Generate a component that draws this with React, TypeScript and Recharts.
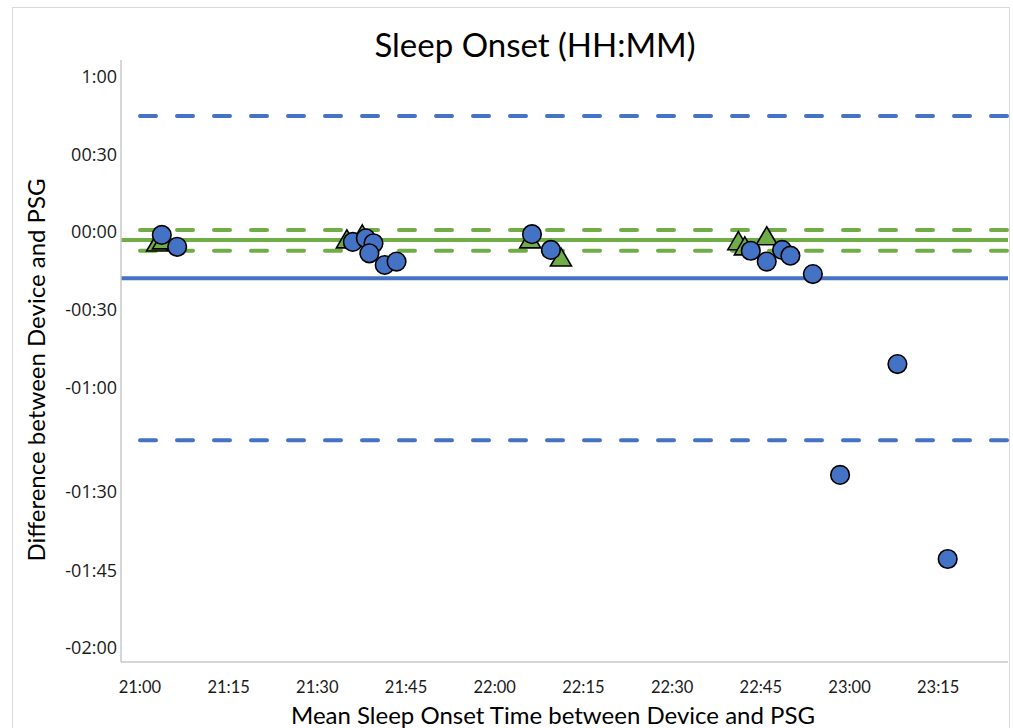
import React from "react";
import { ScatterChart, Scatter, XAxis, YAxis, ReferenceLine } from "recharts";

// x: mean sleep onset time (minutes after midnight), y: difference (minutes)
const blueX = [1263.7, 1266.3, 1296.0, 1298.2, 1299.5, 1298.8, 1301.4, 1303.4, 1326.3, 1329.5, 1363.3, 1366.0, 1368.6, 1370.0, 1373.8, 1378.4, 1388.1, 1396.6];
const blueY = [-1.0, -5.6, -3.7, -2.3, -4.2, -8.1, -12.6, -11.3, -0.7, -6.8, -7.1, -11.3, -6.8, -9.0, -16.1, -93.7, -50.9, -126.2];

const greenX = [1262.9, 1263.9, 1295.0, 1297.6, 1326.0, 1331.2, 1361.2, 1366.0, 1362.3];
const greenY = [-4.1, -3.3, -2.9, -1.0, -2.9, -9.9, -3.6, -1.7, -5.6];

const blueBias = -17.7;
const blueLoA = [45.0, -80.3];
const greenBias = -2.9;
const greenLoA = [0.9, -7.1];

const xTickValues = [1260, 1275, 1290, 1305, 1320, 1335, 1350, 1365, 1380, 1395];
const yTickValues = [60, 30, 0, -30, -60, -100.3, -130.8, -160.6];
const yTickLabels = ["1:00", "00:30", "00:00", "-00:30", "-01:00", "-01:30", "-01:45", "-02:00"];

const blueData = blueX.map((x, i) => ({ x, y: blueY[i] }));
const greenData = greenX.map((x, i) => ({ x, y: greenY[i] }));

const BLUE = "#4472C4";
const GREEN = "#70AD47";

const fmtX = (v: number) => {
  const h = Math.floor(v / 60);
  const m = Math.round(v - h * 60);
  return `${h}:${m < 10 ? "0" + m : m}`;
};
const fmtY = (v: number) => {
  const i = yTickValues.indexOf(v);
  return i >= 0 ? yTickLabels[i] : "";
};

const Circle = (p: any) => (
  <circle cx={p.cx} cy={p.cy} r={9.3} fill={BLUE} stroke="#000" strokeWidth={1.6} />
);
const Triangle = (p: any) => (
  <polygon
    points={`${p.cx},${p.cy - 10} ${p.cx + 10.5},${p.cy + 8} ${p.cx - 10.5},${p.cy + 8}`}
    fill={GREEN}
    stroke="#000"
    strokeWidth={1.6}
    strokeLinejoin="miter"
  />
);

const XTick = (p: any) => (
  <text x={p.x} y={p.y} dy={11} textAnchor="middle" fill="#1a1a1a" fontSize={16.5} fontFamily="Lato">
    {fmtX(p.payload.value)}
  </text>
);
const YTick = (p: any) => (
  <text x={p.x} y={p.y} dy={6} textAnchor="end" fill="#1a1a1a" fontSize={18} fontFamily="Open Sans">
    {fmtY(p.payload.value)}
  </text>
);

export default function App() {
  const dash = { strokeDasharray: "16 21", strokeLinecap: "round" as const, strokeDashoffset: 18 };
  return (
    <div style={{ position: "absolute", left: 0, top: 0, width: 1013, height: 728, background: "#fff", overflow: "hidden" }}>
      <div style={{ position: "absolute", left: 12, top: 7, width: 998, height: 760, border: "1px solid #D9D9D9", boxSizing: "border-box" }} />
      <ScatterChart width={1013} height={728} margin={{ top: 60, right: 5, bottom: 36, left: 1 }}>
        <XAxis
          type="number"
          dataKey="x"
          domain={[1256.8, 1406.8]}
          ticks={xTickValues}
          height={30}
          tickLine={false}
          tickSize={0}
          tickMargin={20}
          axisLine={{ stroke: "#C8C8C8", strokeWidth: 1.5 }}
          tick={XTick}
          interval={0}
          allowDataOverflow
        />
        <YAxis
          type="number"
          dataKey="y"
          domain={[-166, 66.6]}
          ticks={yTickValues}
          width={120}
          tickLine={false}
          tickSize={0}
          tickMargin={4}
          axisLine={{ stroke: "#C8C8C8", strokeWidth: 1.5 }}
          tick={YTick}
          interval={0}
          allowDataOverflow
        />
        <ReferenceLine y={blueLoA[0]} stroke={BLUE} strokeWidth={4} {...dash} />
        <ReferenceLine y={blueLoA[1]} stroke={BLUE} strokeWidth={4} {...dash} />
        <ReferenceLine y={blueBias} stroke={BLUE} strokeWidth={4} />
        <ReferenceLine y={greenLoA[0]} stroke={GREEN} strokeWidth={4} {...dash} />
        <ReferenceLine y={greenLoA[1]} stroke={GREEN} strokeWidth={4} {...dash} />
        <ReferenceLine y={greenBias} stroke={GREEN} strokeWidth={4} />
        <Scatter data={greenData} shape={Triangle} isAnimationActive={false} />
        <Scatter data={blueData} shape={Circle} isAnimationActive={false} />
      </ScatterChart>
      <div style={{ position: "absolute", left: 0, width: 1070, top: 23, textAlign: "center", fontFamily: "Lato", fontSize: 33, color: "#000", lineHeight: "42px" }}>
        Sleep Onset (HH:MM)
      </div>
      <div style={{ position: "absolute", left: 0, width: 1106, top: 703, textAlign: "center", fontFamily: "Lato", fontSize: 24, color: "#000", lineHeight: "24px" }}>
        Mean Sleep Onset Time between Device and PSG
      </div>
      <div style={{ position: "absolute", left: 36 - 250, width: 500, top: 370 - 12, textAlign: "center", fontFamily: "Lato", fontSize: 24, color: "#000", lineHeight: "24px", transform: "rotate(-90deg)" }}>
        Difference between Device and PSG
      </div>
    </div>
  );
}
